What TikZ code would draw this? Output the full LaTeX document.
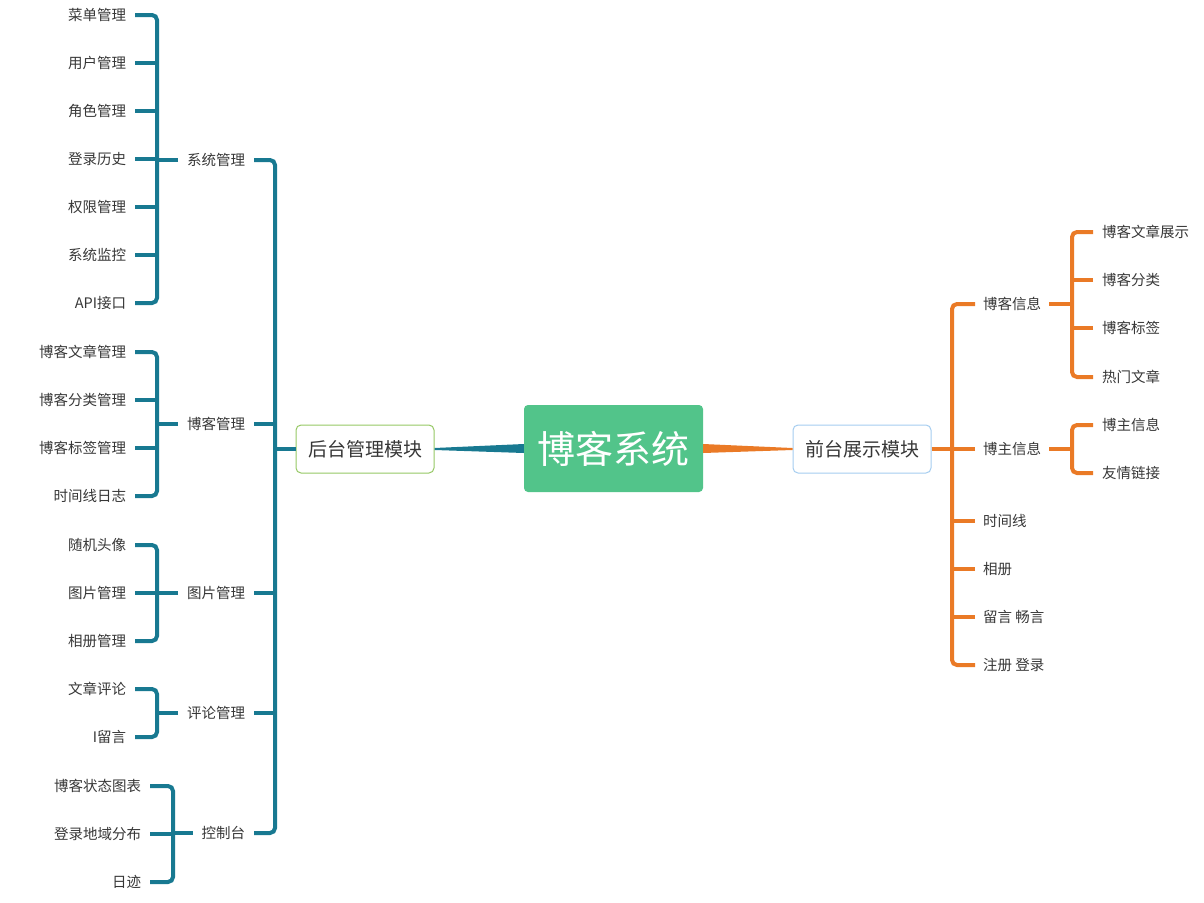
\documentclass[tikz,border=0pt]{standalone}
\usepackage{fontspec}
\setmainfont{Noto Sans CJK SC}
\usetikzlibrary{calc}
\definecolor{tealc}{RGB}{24,121,145}
\definecolor{orangec}{RGB}{234,122,38}
\definecolor{greenc}{RGB}{82,196,138}
\definecolor{txt}{RGB}{55,55,55}
\definecolor{lboxc}{RGB}{150,200,100}
\definecolor{rboxc}{RGB}{165,205,240}
\tikzset{
  lbl/.style={text=txt,font=\fontsize{14.5}{17}\selectfont,inner xsep=9pt,inner ysep=2pt,outer sep=0pt},
  leafL/.style={lbl,anchor=east},
  grpL/.style={lbl,anchor=east},
  grpR/.style={lbl,anchor=west,inner xsep=8pt},
  leafR/.style={lbl,anchor=west},
  modbox/.style={line width=1pt,fill=white,rounded corners=5pt,minimum width=138pt,minimum height=48pt,text=txt,font=\fontsize{19}{22}\selectfont,inner sep=0pt},
  tl/.style={draw=tealc,line width=4pt,rounded corners=5pt},
  ol/.style={draw=orangec,line width=4pt,rounded corners=5pt},
}
\begin{document}
\begin{tikzpicture}[x=1pt,y=-1pt]
\useasboundingbox (0,0) rectangle (1204,902);
% coordinates for bracket columns
\coordinate (bS) at (157,0);
\coordinate (bC) at (173,0);
\coordinate (bL) at (275,0);
\coordinate (bR) at (952,0);
\coordinate (bR2) at (1072,0);
% main nodes
\node[fill=greenc,rounded corners=4pt,minimum width=179pt,minimum height=87pt,text=white,font=\fontsize{38}{44}\selectfont,inner sep=0pt] (root) at (613.5,448.5) {博客系统};
\node[modbox,draw=lboxc] (lbox) at (365,449) {后台管理模块};
\node[modbox,draw=rboxc] (rbox) at (862,449) {前台展示模块};
% tapered connectors
\fill[tealc] ($(lbox.east)+(0,-1)$) -- ($(root.west)+(0,-4.5)$) -- ($(root.west)+(0,4.5)$) -- ($(lbox.east)+(0,1)$) -- cycle;
\fill[orangec] ($(rbox.west)+(0,-1)$) -- ($(root.east)+(0,-4.5)$) -- ($(root.east)+(0,4.5)$) -- ($(rbox.west)+(0,1)$) -- cycle;

% ---------- left side ----------
\node[grpL] (g1) at (254,160) {系统管理};
\node[grpL] (g2) at (254,424) {博客管理};
\node[grpL] (g3) at (254,593) {图片管理};
\node[grpL] (g4) at (254,713) {评论管理};
\node[grpL] (g5) at (254,833) {控制台};

\node[leafL] (a1) at (135,15) {菜单管理};
\node[leafL] (a2) at (135,63) {用户管理};
\node[leafL] (a3) at (135,111) {角色管理};
\node[leafL] (a4) at (135,159) {登录历史};
\node[leafL] (a5) at (135,207) {权限管理};
\node[leafL] (a6) at (135,255) {系统监控};
\node[leafL] (a7) at (135,303) {API接口};

\node[leafL] (b1) at (135,352) {博客文章管理};
\node[leafL] (b2) at (135,400) {博客分类管理};
\node[leafL] (b3) at (135,448) {博客标签管理};
\node[leafL] (b4) at (135,496) {时间线日志};

\node[leafL] (c1) at (135,545) {随机头像};
\node[leafL] (c2) at (135,593) {图片管理};
\node[leafL] (c3) at (135,641) {相册管理};

\node[leafL] (d1) at (135,689) {文章评论};
\node[leafL] (d2) at (135,737) {I留言};

\node[leafL] (e1) at (150,786) {博客状态图表};
\node[leafL] (e2) at (150,834) {登录地域分布};
\node[leafL] (e3) at (150,882) {日迹};

% left backbone
\draw[tl] (g1.east) -| (bL |- g5.east) -- (g5.east);
\foreach \g in {g2,g3,g4} \draw[tl] (\g.east) -- (\g.east -| bL);
\draw[tl] (lbox.west) -- (lbox.west -| bL);

% group brackets
\draw[tl] (a1.east) -| (bS |- a7.east) -- (a7.east);
\foreach \n in {a2,a3,a4,a5,a6} \draw[tl] (\n.east) -- (\n.east -| bS);
\draw[tl] (g1.west) -- (g1.west -| bS);

\draw[tl] (b1.east) -| (bS |- b4.east) -- (b4.east);
\foreach \n in {b2,b3} \draw[tl] (\n.east) -- (\n.east -| bS);
\draw[tl] (g2.west) -- (g2.west -| bS);

\draw[tl] (c1.east) -| (bS |- c3.east) -- (c3.east);
\draw[tl] (c2.east) -- (c2.east -| bS);
\draw[tl] (g3.west) -- (g3.west -| bS);

\draw[tl] (d1.east) -| (bS |- d2.east) -- (d2.east);
\draw[tl] (g4.west) -- (g4.west -| bS);

\draw[tl] (e1.east) -| (bC |- e3.east) -- (e3.east);
\draw[tl] (e2.east) -- (e2.east -| bC);
\draw[tl] (g5.west) -- (g5.west -| bC);

% ---------- right side ----------
\node[grpR] (h1) at (975,304) {博客信息};
\node[grpR] (h2) at (975,449) {博主信息};
\node[grpR] (h3) at (975,521) {时间线};
\node[grpR] (h4) at (975,569) {相册};
\node[grpR] (h5) at (975,617) {留言 畅言};
\node[grpR] (h6) at (975,665) {注册 登录};

\node[leafR] (r1) at (1093,232) {博客文章展示};
\node[leafR] (r2) at (1093,280) {博客分类};
\node[leafR] (r3) at (1093,328) {博客标签};
\node[leafR] (r4) at (1093,377) {热门文章};
\node[leafR] (s1) at (1093,425) {博主信息};
\node[leafR] (s2) at (1093,473) {友情链接};

\draw[ol] (h1.west) -| (bR |- h6.west) -- (h6.west);
\foreach \g in {h2,h3,h4,h5} \draw[ol] (\g.west) -- (\g.west -| bR);
\draw[ol] (rbox.east) -- (rbox.east -| bR);

\draw[ol] (r1.west) -| (bR2 |- r4.west) -- (r4.west);
\foreach \n in {r2,r3} \draw[ol] (\n.west) -- (\n.west -| bR2);
\draw[ol] (h1.east) -- (h1.east -| bR2);

\draw[ol] (s1.west) -| (bR2 |- s2.west) -- (s2.west);
\draw[ol] (h2.east) -- (h2.east -| bR2);
\end{tikzpicture}
\end{document}
